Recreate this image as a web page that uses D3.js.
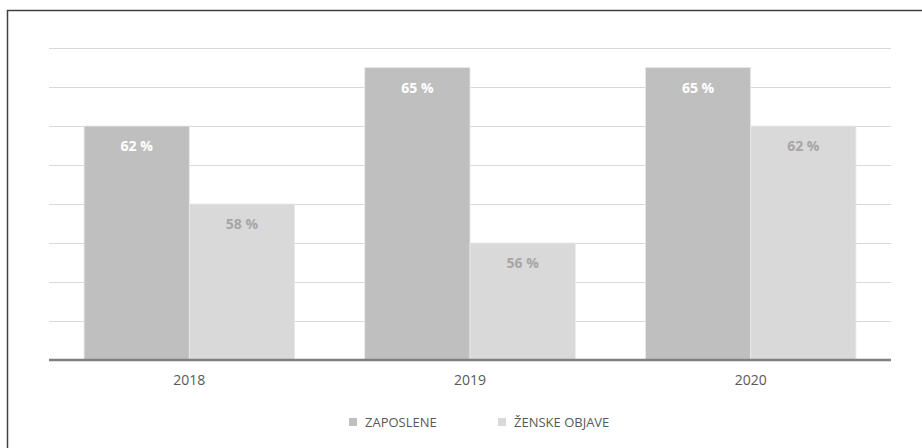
<!DOCTYPE html>
<html>
<head>
<meta charset="utf-8">
<script src="https://cdn.jsdelivr.net/npm/d3@7"></script>
<style>
  html, body { margin: 0; background: #fff; overflow: hidden; }
  svg { display: block; }
  text { font-family: 'Open Sans', sans-serif; }
</style>
</head>
<body>
<div class="chart"></div>
<script>
const years = ['2018', '2019', '2020']
const seriesNames = ['ZAPOSLENE', 'ŽENSKE OBJAVE']
const zaposlene = [62, 65, 65]
const zenskeObjave = [58, 56, 62]
const yTicks = [52, 54, 56, 58, 60, 62, 64, 66]

const colors = ['#bfbfbf', '#d9d9d9']
const labelColors = ['#ffffff', '#a6a6a6']

const svg = d3.select('.chart')
  .append('svg')
  .attr('width', 922)
  .attr('height', 448)

// outer frame: only its top and left edges fall inside the picture
svg.append('path')
  .attr('d', 'M7.5,448 V10.5 H922')
  .attr('fill', 'none')
  .attr('stroke', '#404040')
  .attr('stroke-width', 1.5)

const plotLeft = 49, plotRight = 891, plotTop = 48, plotBottom = 360

const x0 = d3.scaleBand().domain(years).range([plotLeft, plotRight]).paddingInner(0.25).paddingOuter(0.125)
const x1 = d3.scaleBand().domain(seriesNames).range([0, x0.bandwidth()])
const y = d3.scaleLinear().domain([50, 66]).range([plotBottom, plotTop])

// gridlines
svg.append('g')
  .selectAll('line')
  .data(yTicks)
  .enter()
  .append('line')
    .attr('x1', plotLeft)
    .attr('x2', plotRight)
    .attr('y1', d => Math.round(y(d)) + 0.5)
    .attr('y2', d => Math.round(y(d)) + 0.5)
    .style('stroke', '#d9d9d9')
    .style('stroke-width', '1.2px')

const data = years.map((yr, i) => ({ year: yr, values: [zaposlene[i], zenskeObjave[i]] }))

const groups = svg.append('g')
  .selectAll('g')
  .data(data)
  .enter()
  .append('g')
  .attr('transform', d => 'translate(' + x0(d.year) + ',0)')

groups.selectAll('rect')
  .data(d => d.values.map((v, i) => ({ series: seriesNames[i], value: v, i: i })))
  .enter()
  .append('rect')
    .attr('x', d => x1(d.series))
    .attr('y', d => y(d.value))
    .attr('width', x1.bandwidth())
    .attr('height', d => plotBottom - y(d.value))
    .style('fill', d => colors[d.i])
    .style('stroke', '#e8e8e8')
    .style('stroke-width', '0.8px')

groups.selectAll('text')
  .data(d => d.values.map((v, i) => ({ series: seriesNames[i], value: v, i: i })))
  .enter()
  .append('text')
    .attr('x', d => x1(d.series) + x1.bandwidth() / 2)
    .attr('y', d => y(d.value) + 25)
    .attr('text-anchor', 'middle')
    .style('font-size', '14px')
    .style('font-weight', 'bold')
    .style('fill', d => labelColors[d.i])
    .text(d => d.value + ' %')

// baseline
svg.append('line')
  .attr('x1', plotLeft)
  .attr('x2', plotRight)
  .attr('y1', plotBottom)
  .attr('y2', plotBottom)
  .style('stroke', '#7f7f7f')
  .style('stroke-width', '2.5px')

// category labels
const xAxis = svg.append('g')
  .attr('transform', 'translate(0,' + plotBottom + ')')
  .call(d3.axisBottom(x0).tickSize(0).tickPadding(15))
xAxis.select('.domain').remove()
xAxis.selectAll('text')
  .style('font-family', "'Open Sans', sans-serif")
  .style('font-size', '14px')
  .style('fill', '#595959')

// legend
const legendX = [349, 498]
const legend = svg.append('g')
  .selectAll('g')
  .data(seriesNames)
  .enter()
  .append('g')
  .attr('transform', (d, i) => 'translate(' + legendX[i] + ',418)')

legend.append('rect')
  .attr('width', 8)
  .attr('height', 8)
  .style('fill', (d, i) => colors[i])

legend.append('text')
  .attr('x', 16)
  .attr('y', 9)
  .style('font-size', '13px')
  .style('fill', '#595959')
  .text(d => d)
</script>
</body>
</html>
